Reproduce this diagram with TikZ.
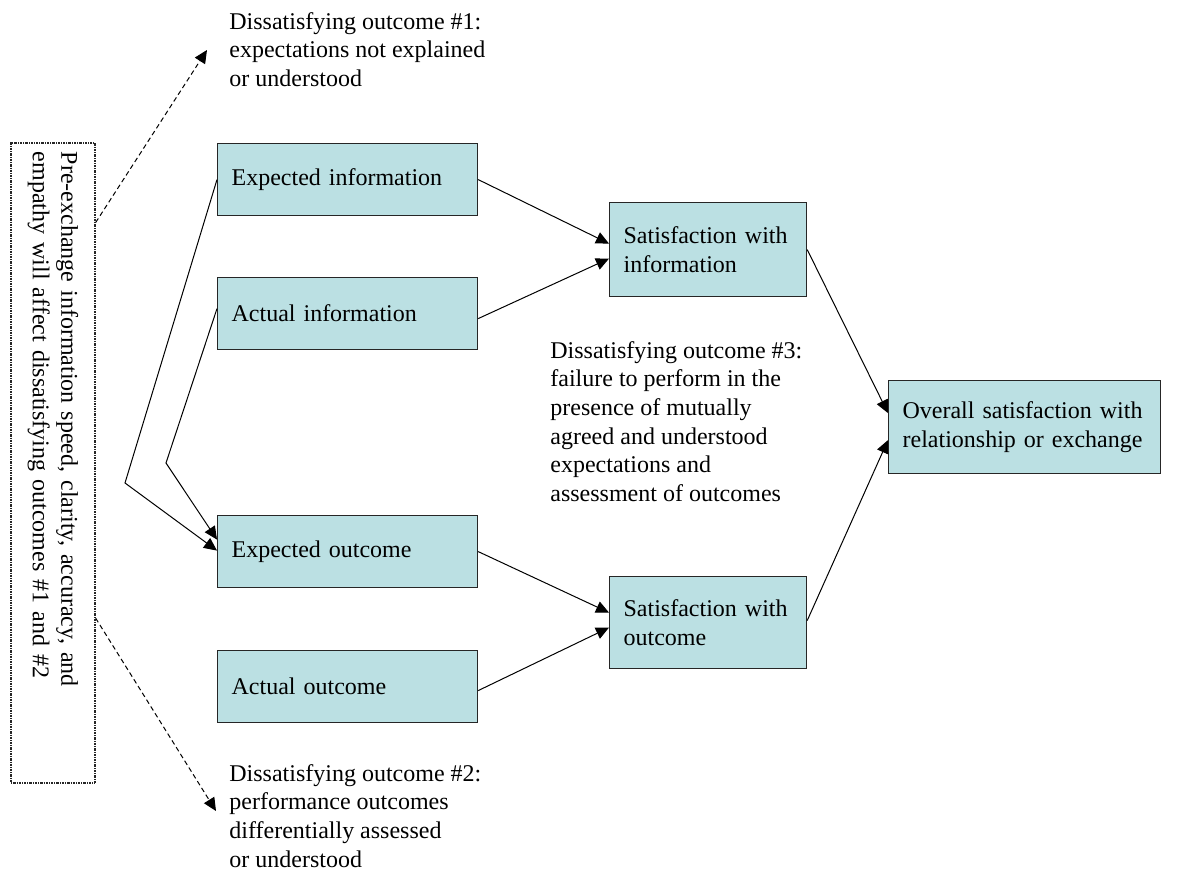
\documentclass[tikz,border=0pt]{standalone}
\usepackage{fontspec}
\setmainfont{Liberation Serif}
\usetikzlibrary{arrows.meta,calc}
\definecolor{boxfill}{RGB}{187,224,227}
\begin{document}
\begin{tikzpicture}[x=0.5pt,y=-0.5pt,
  font=\fontsize{12}{14.3}\selectfont,
  box/.style={draw=black!85, line width=0.6pt, fill=boxfill, align=left,
    inner xsep=7pt, inner ysep=0pt, anchor=north west},
  widebox/.style={box, text width=116pt, minimum height=36pt},
  satbox/.style={box, text width=84.5pt, minimum height=47pt},
  note/.style={align=left, inner sep=0pt, anchor=north west},
  link/.style={line width=0.5pt, -{Triangle[length=6.5pt,width=6pt]}},
  hint/.style={link, dash pattern=on 2.4pt off 1.6pt}
]
\useasboundingbox (0,0) rectangle (1179,870);

% process boxes
\node[widebox] (ei) at (217,143) {Expected information};
\node[widebox] (ai) at (217,277) {Actual information};
\node[widebox] (eo) at (217,515) {Expected outcome};
\node[widebox] (ao) at (217,650) {Actual outcome};
\node[satbox]  (si) at (609,202) {Satisfaction with\\information};
\node[satbox, minimum height=46pt] (so) at (609,576) {Satisfaction with\\outcome};
\node[box, text width=122pt, minimum height=46.5pt] (ov) at (888,380)
  {Overall satisfaction with\\relationship or exchange};

% rotated pre-exchange box
\node[draw=black!85, line width=0.7pt,
  dash pattern=on 1.2pt off 0.5pt on 0.5pt off 0.5pt, rotate=-90,
  minimum width=320pt, minimum height=42pt, text width=311pt,
  inner xsep=4.5pt, align=left] (pre) at (53,463)
  {Pre-exchange information speed, clarity, accuracy, and\\
   empathy will affect dissatisfying outcomes \#1 and \#2};

% free-standing notes
\node[note] (n1) at (229,12) {Dissatisfying outcome \#1:\\expectations not explained\\or understood};
\node[note] (n3) at (550,341) {Dissatisfying outcome \#3:\\failure to perform in the\\presence of mutually\\agreed and understood\\expectations and\\assessment of outcomes};
\node[note] (n2) at (229,764) {Dissatisfying outcome \#2:\\performance outcomes\\differentially assessed\\or understood};

% bends and dashed arrow ends
\coordinate (b1) at (125,483);
\coordinate (b2) at (166,463);
\coordinate (t1) at (207,50);
\coordinate (t2) at (216,811);

% information and outcome links
\draw[link] (ei.east) -- ([yshift=3pt]si.west);
\draw[link] ([yshift=-2.5pt]ai.east) -- ([yshift=-4.5pt]si.west);
\draw[link] (eo.east) -- ([yshift=5pt]so.west);
\draw[link] ([yshift=-2pt]ao.east) -- ([yshift=-2.5pt]so.west);
\draw[link] (si.east) -- ([yshift=7pt]ov.west);
\draw[link] ([yshift=1pt]so.east) -- ([yshift=-6.5pt]ov.west);

% expectations feeding the expected outcome
\draw[link] (ei.west) -- (b1) -- ([yshift=0.5pt]eo.west);
\draw[link] ([yshift=2.5pt]ai.west) -- (b2) -- ([yshift=6pt]eo.west);

% pre-exchange influence on outcomes #1 and #2
\draw[hint] ($(pre.north west)!0.125!(pre.north east)$) -- (t1);
\draw[hint] ($(pre.north west)!0.742!(pre.north east)$) -- (t2);
\end{tikzpicture}
\end{document}
